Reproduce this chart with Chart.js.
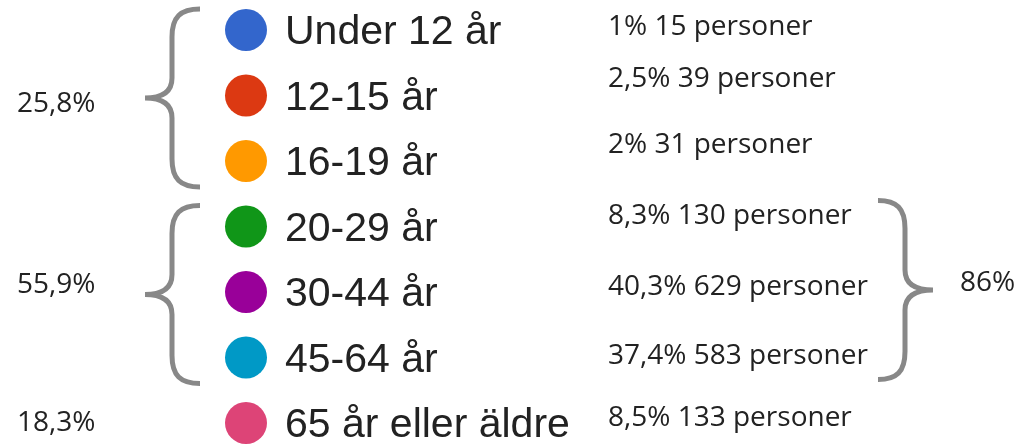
<!DOCTYPE html>
<html>
<head>
<meta charset="utf-8">
<script src="https://cdn.jsdelivr.net/npm/chart.js@4"></script>
<style>
  html, body { margin: 0; padding: 0; background: #fff; }
  #chart { display: block; }
</style>
</head>
<body>
<canvas id="chart" width="1019" height="444"></canvas>
<script>
const categories = ['Under 12 år', '12-15 år', '16-19 år', '20-29 år', '30-44 år', '45-64 år', '65 år eller äldre'];
const percents = [1, 2.5, 2, 8.3, 40.3, 37.4, 8.5];
const counts = [15, 39, 31, 130, 629, 583, 133];
const colors = ['#3366cc', '#dc3912', '#ff9900', '#109618', '#990099', '#0099c6', '#dd4477'];

// groups as [first row, last row]
const leftGroups = [[0, 2], [3, 5], [6, 6]];
const leftTotals = [25.8, 55.9, 18.3];
const rightGroups = [[3, 5]];
const rightTotals = [86];

const fmt = v => String(v).replace('.', ',');

// layout constants (x in pixels on the x scale)
const DOT_R = 21;
const DOT_X = 246;
const LABEL_X = 285;
const VALUE_X = 608;
const LEFT_TOTAL_X = 17;
const RIGHT_TOTAL_X = 960;
const valueNudge = [5, -9, -8, -3, 3, 6, 3];
const leftTotalNudge = [16, 1, 8];

function brace(ctx, xEnd, xStem, xTip, top, bottom) {
    const mid = (top + bottom) / 2;
    const e = xStem + (xEnd - xStem) * 0.3;
    const t = xStem + (xTip - xStem) * 0.4;
    ctx.beginPath();
    ctx.moveTo(xEnd, top);
    ctx.bezierCurveTo(e, top, xStem, top + 8, xStem, top + 28);
    ctx.lineTo(xStem, mid - 20);
    ctx.bezierCurveTo(xStem, mid - 5, t, mid, xTip, mid);
    ctx.bezierCurveTo(t, mid, xStem, mid + 5, xStem, mid + 20);
    ctx.lineTo(xStem, bottom - 28);
    ctx.bezierCurveTo(xStem, bottom - 8, e, bottom, xEnd, bottom);
    ctx.stroke();
}

const annotations = {
    id: 'annotations',
    afterDatasetsDraw(chart) {
        const ctx = chart.ctx;
        const x = chart.scales.x;
        const y = chart.scales.y;
        ctx.save();
        ctx.textBaseline = 'alphabetic';
        ctx.fillStyle = '#222222';

        // category labels
        ctx.font = '41px "Liberation Sans", Arial, sans-serif';
        ctx.textAlign = 'left';
        categories.forEach((c, i) => {
            ctx.fillText(c, x.getPixelForValue(LABEL_X), y.getPixelForValue(i) + 14);
        });

        // percent + count
        ctx.font = '28px "Open Sans", sans-serif';
        categories.forEach((c, i) => {
            ctx.fillText(fmt(percents[i]) + '% ' + counts[i] + ' personer',
                x.getPixelForValue(VALUE_X), y.getPixelForValue(i) + valueNudge[i]);
        });

        // left group totals and braces
        ctx.strokeStyle = '#888888';
        ctx.lineWidth = 5;
        leftGroups.forEach((g, k) => {
            const top = y.getPixelForValue(g[0]);
            const bottom = y.getPixelForValue(g[1]);
            ctx.fillText(fmt(leftTotals[k]) + '%', x.getPixelForValue(LEFT_TOTAL_X), (top + bottom) / 2 + leftTotalNudge[k]);
            if (g[1] > g[0]) {
                brace(ctx, x.getPixelForValue(200), x.getPixelForValue(172), x.getPixelForValue(145), top - 21, bottom + 26);
            }
        });

        // right group totals and braces
        rightGroups.forEach((g, k) => {
            const top = y.getPixelForValue(g[0]);
            const bottom = y.getPixelForValue(g[1]);
            brace(ctx, x.getPixelForValue(878), x.getPixelForValue(905), x.getPixelForValue(933), top - 26, bottom + 22);
            ctx.fillText(fmt(rightTotals[k]) + '%', x.getPixelForValue(RIGHT_TOTAL_X), (top + bottom) / 2 - 1);
        });
        ctx.restore();
    }
};

new Chart(document.getElementById('chart'), {
    type: 'scatter',
    data: {
        labels: categories,
        datasets: [{
            data: categories.map((c, i) => ({ x: DOT_X, y: i })),
            backgroundColor: colors,
            pointRadius: DOT_R,
            pointHoverRadius: DOT_R,
            borderWidth: 0,
            clip: false
        }]
    },
    options: {
        responsive: false,
        animation: false,
        events: [],
        layout: { padding: { top: 30, bottom: 19, left: 0, right: 0 } },
        plugins: {
            legend: { display: false },
            tooltip: { enabled: false }
        },
        scales: {
            // the chart area is inset by the dot radius on each side
            x: { type: 'linear', min: DOT_R, max: 1019 - DOT_R, display: false },
            y: { type: 'category', labels: categories, offset: false, display: false }
        }
    },
    plugins: [annotations]
});
</script>
</body>
</html>
